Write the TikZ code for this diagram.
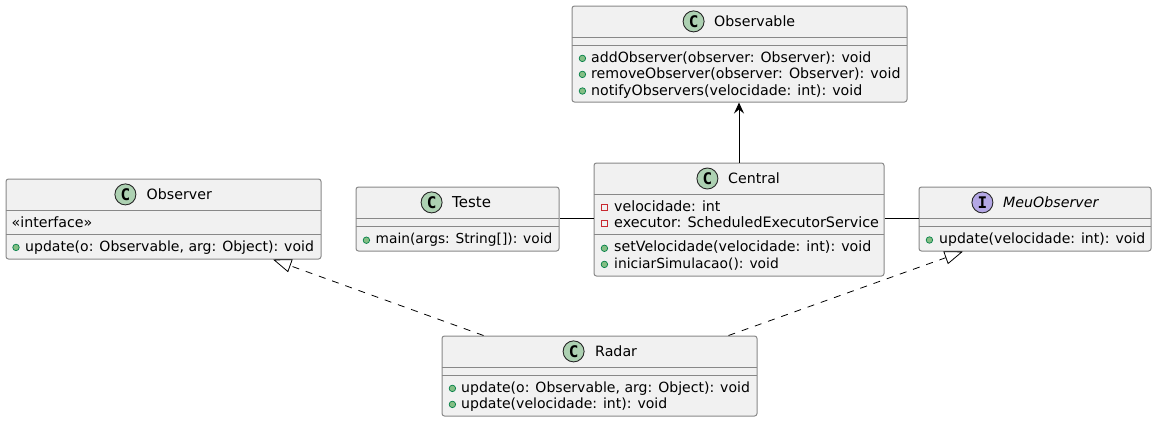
\documentclass[tikz,border=0pt]{standalone}
\usepackage{fontspec}
\setmainfont{DejaVu Sans}
\setmonofont{DejaVu Sans Mono}
\usetikzlibrary{arrows.meta}
\definecolor{boxfill}{HTML}{F1F1F1}
\definecolor{boxline}{HTML}{888888}
\definecolor{spotc}{HTML}{ADD1B2}
\definecolor{spoti}{HTML}{B4A7E5}
\definecolor{pubfill}{HTML}{84BE84}
\definecolor{publine}{HTML}{038048}
\definecolor{privline}{HTML}{C82930}
\tikzset{
  classbox/.style={draw=boxline,fill=boxfill,line width=1pt,rounded corners=2.5pt,inner sep=0,anchor=north west},
  sep/.style={draw=boxline,line width=1pt},
  spot/.style={draw=black!85,line width=0.9pt,shape=circle,inner sep=0,minimum size=21pt,font=\fontsize{16}{16}\ttfamily\bfseries},
  title/.style={inner sep=0,anchor=base west,font=\fontsize{14.2}{14.2}\selectfont},
  member/.style={inner sep=0,anchor=base west,font=\fontsize{14.2}{14.2}\selectfont},
  sized/.style={font=\fontsize{#1}{#1}\selectfont},
  pub/.style={draw=publine,fill=pubfill,line width=0.7pt,shape=circle,inner sep=0,minimum size=6.5pt},
  priv/.style={draw=privline,line width=0.8pt,shape=rectangle,inner sep=0,minimum size=6pt},
  assoc/.style={line width=1pt,black},
  realize/.style={line width=0.8pt,black,dash pattern=on 7pt off 7pt,-{Triangle[open,length=18.5pt,width=13.5pt,line width=0.8pt]}}
}
\begin{document}
\begin{tikzpicture}[x=1pt,y=-1pt]
  \useasboundingbox (0,0) rectangle (1155,421);

  % boxes
  \node[classbox,minimum width=335pt,minimum height=96pt] (observable) at (571.5,5.5) {};
  \node[classbox,minimum width=315pt,minimum height=80pt] (observer) at (5.5,178.5) {};
  \node[classbox,minimum width=203pt,minimum height=64pt] (teste) at (355.5,186.5) {};
  \node[classbox,minimum width=290pt,minimum height=113pt] (central) at (593.5,162.5) {};
  \node[classbox,minimum width=232pt,minimum height=64pt] (meuobserver) at (918.5,186.5) {};
  \node[classbox,minimum width=315pt,minimum height=80pt] (radar) at (441.5,335.5) {};

  % separators
  \draw[sep] (571.5,37.5) -- (906.5,37.5);
  \draw[sep] (571.5,45.5) -- (906.5,45.5);
  \draw[sep] (5.5,210.5) -- (320.5,210.5);
  \draw[sep] (5.5,234.5) -- (320.5,234.5);
  \draw[sep] (355.5,218.5) -- (558.5,218.5);
  \draw[sep] (355.5,226.5) -- (558.5,226.5);
  \draw[sep] (593.5,194.5) -- (883.5,194.5);
  \draw[sep] (593.5,234.5) -- (883.5,234.5);
  \draw[sep] (918.5,218.5) -- (1150.5,218.5);
  \draw[sep] (918.5,226.5) -- (1150.5,226.5);
  \draw[sep] (441.5,367.5) -- (756.5,367.5);
  \draw[sep] (441.5,375.5) -- (756.5,375.5);

  % spots
  \node[spot,fill=spotc] (sobservable) at (693.6,21.4) {C};
  \node[spot,fill=spotc] (sobserver) at (125.4,194.4) {C};
  \node[spot,fill=spotc] (steste) at (431.6,202.4) {C};
  \node[spot,fill=spotc] (scentral) at (707.4,178.5) {C};
  \node[spot,fill=spoti] (smeuobserver) at (982.4,202.4) {I};
  \node[spot,fill=spotc] (sradar) at (573.6,351.4) {C};

  % titles
  \node[title] (tobservable) at (714,26.5) {Observable};
  \node[title] (tobserver) at (146.5,199.5) {Observer};
  \node[title,sized=15] (tteste) at (452,207.5) {Teste};
  \node[title] (tcentral) at (728,183.5) {Central};
  \node[title,font=\fontsize{14.2}{14.2}\selectfont\itshape] (tmeuobserver) at (1003,207.5) {MeuObserver};
  \node[title] (tradar) at (595,356.5) {Radar};

  % members
  \node[pub] (p1) at (582.4,58.4) {};
  \node[member,sized=14.1] (m1) at (591,62) {addObserver(observer: Observer): void};
  \node[pub] (p2) at (582.4,74.4) {};
  \node[member] (m2) at (591,78) {removeObserver(observer: Observer): void};
  \node[pub] (p3) at (582.4,91) {};
  \node[member] (m3) at (591,95) {notifyObservers(velocidade: int): void};
  \node[member] (m4) at (11.5,227) {«interface»};
  \node[pub] (p5) at (16,247.4) {};
  \node[member,sized=14.05] (m5) at (25,251) {update(o: Observable, arg: Object): void};
  \node[pub] (p6) at (366.4,240.2) {};
  \node[member,sized=13.75] (m6) at (375.5,243) {main(args: String[]): void};
  \node[priv] (p7) at (604.4,207) {};
  \node[member] (m7) at (614,211) {velocidade: int};
  \node[priv] (p8) at (604.4,223.4) {};
  \node[member,sized=14.35] (m8) at (614,227) {executor: ScheduledExecutorService};
  \node[pub] (p9) at (604.4,248.3) {};
  \node[member] (m9) at (614,251.5) {setVelocidade(velocidade: int): void};
  \node[pub] (p10) at (604.4,264.4) {};
  \node[member,sized=13.85] (m10) at (614,268) {iniciarSimulacao(): void};
  \node[pub] (p11) at (929.4,240) {};
  \node[member,sized=14.05] (m11) at (939,243) {update(velocidade: int): void};
  \node[pub] (p12) at (452.4,388.4) {};
  \node[member,sized=14.05] (m12) at (461,392) {update(o: Observable, arg: Object): void};
  \node[pub] (p13) at (452.4,404.4) {};
  \node[member,sized=14.05] (m13) at (461,408) {update(velocidade: int): void};

  % connectors
  \draw[assoc,-{Stealth[length=11pt,width=10pt,inset=4pt]}] (central.north) -- (central.north |- observable.south);
  \draw[assoc] (teste.east |- 0,218.5) -- (central.west |- 0,218.5);
  \draw[assoc] (central.east |- 0,218.5) -- (meuobserver.west |- 0,218.5);
  \draw[realize] ([xshift=42pt]radar.north west) -- ([xshift=267.5pt]observer.south west);
  \draw[realize] ([xshift=287pt]radar.north west) -- ([xshift=44.5pt]meuobserver.south west);

\end{tikzpicture}
\end{document}
